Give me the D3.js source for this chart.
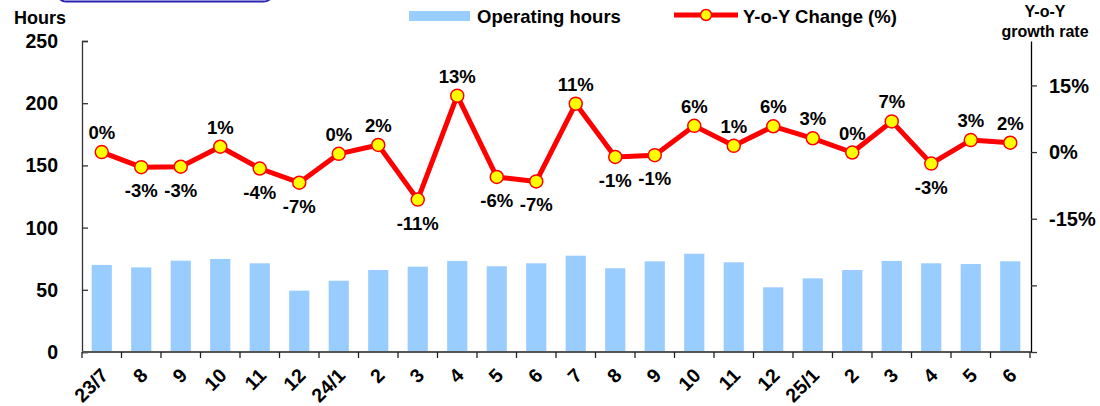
<!DOCTYPE html>
<html>
<head>
<meta charset="utf-8">
<script src="https://cdn.jsdelivr.net/npm/d3@7"></script>
<style>
  html, body { margin: 0; padding: 0; background: #fff; }
  svg { display: block; font-family: "Liberation Sans", Arial, sans-serif; font-weight: bold; }
</style>
</head>
<body>
<svg id="chart" width="1100" height="406"></svg>
<script>
// Monthly categories (Jul 2023 – Jun 2025)
const months = ["23/7","8","9","10","11","12","24/1","2","3","4","5","6","7","8","9","10","11","12","25/1","2","3","4","5","6"];
// Operating hours per month
const hours = [70, 68, 73.4, 74.8, 71.3, 49.3, 57.3, 65.9, 68.6, 73.2, 68.9, 71.3,
               77.4, 67.3, 72.9, 79, 72.1, 52, 59.2, 65.9, 73.2, 71.3, 70.7, 72.9];
// Year-on-year change (%)
const yoy = [0.0, -3.4, -3.3, 1.2, -3.7, -6.9, -0.4, 1.6, -10.7, 12.7, -5.6, -6.6,
             10.9, -1.1, -0.7, 5.9, 1.4, 5.8, 3.1, -0.1, 6.9, -2.6, 2.7, 2.1];
// Label placement for each YoY value
const labelPos = ["up","down","down","up","down","down","up","up","down","up","down","down",
                  "up","down","down","up","up","up","up","up","up","down","up","up"];
const leftTicks = [0, 50, 100, 150, 200, 250];
const rightTicks = [-45, -30, -15, 0, 15];
const rightLabels = [-15, 0, 15];

const svg = d3.select("#chart");
const plotLeft = 82, plotRight = 1030, plotTop = 41, plotBottom = 352;

const x = d3.scaleBand().domain(d3.range(months.length)).range([plotLeft, plotRight])
  .paddingInner(0.49).paddingOuter(0.245);
const yL = d3.scaleLinear().domain([0, 250]).range([plotBottom, plotTop]);
const yR = d3.scaleLinear().domain([-45, 25]).range([plotBottom, plotTop]);

// Frame box peeking in at the top-left
svg.append("rect").attr("x", 57).attr("y", -24).attr("width", 216).attr("height", 25.5)
  .attr("rx", 9).attr("fill", "#fff").attr("stroke", "#2a22b0").attr("stroke-width", 2);

// Bars
svg.append("g").selectAll("rect").data(hours).join("rect")
  .attr("x", (d, i) => x(i)).attr("width", x.bandwidth())
  .attr("y", d => yL(d)).attr("height", d => yL(0) - yL(d))
  .attr("fill", "#99ccff");

// Left axis
const gL = svg.append("g").attr("transform", `translate(${plotLeft},0)`)
  .call(d3.axisRight(yL).tickValues(leftTicks).tickSize(6).tickFormat(""));
gL.select(".domain").attr("stroke", "#333").attr("stroke-width", 1.3);
gL.selectAll(".tick line").attr("stroke", "#333").attr("stroke-width", 1.3);
svg.append("g").selectAll("text").data(leftTicks).join("text")
  .attr("x", 58).attr("y", d => yL(d)).attr("dy", "0.36em")
  .attr("text-anchor", "end").attr("font-size", 19.5).attr("fill", "#000").text(d => d);

// Right axis
const gR = svg.append("g").attr("transform", `translate(${plotRight + 1},0)`)
  .call(d3.axisRight(yR).tickValues(rightTicks).tickSize(6).tickSizeOuter(0).tickFormat(""));
gR.select(".domain").attr("stroke", "#000").attr("stroke-width", 1.3);
gR.selectAll(".tick line").attr("stroke", "#333").attr("stroke-width", 1.3);
svg.append("g").selectAll("text").data(rightLabels).join("text")
  .attr("x", 1049).attr("y", d => yR(d)).attr("dy", "0.36em")
  .attr("text-anchor", "start").attr("font-size", 20).attr("fill", "#000").text(d => d + "%");

// Bottom axis with ticks between categories
const step = x.step();
const boundaries = d3.range(months.length + 1).map(i => plotLeft + i * step);
svg.append("line").attr("x1", plotLeft).attr("x2", plotRight + 1).attr("y1", plotBottom).attr("y2", plotBottom)
  .attr("stroke", "#555").attr("stroke-width", 2);
svg.append("g").selectAll("line").data(boundaries).join("line")
  .attr("x1", d => d).attr("x2", d => d).attr("y1", plotBottom).attr("y2", plotBottom + 6)
  .attr("stroke", "#222").attr("stroke-width", 1.3);
svg.append("g").selectAll("text").data(months).join("text")
  .attr("transform", (d, i) => `translate(${x(i) + x.bandwidth() / 2 - 2},${plotBottom + 15}) rotate(-45)`)
  .attr("dy", "0.7em").attr("text-anchor", "end").attr("font-size", 19.5).attr("fill", "#000")
  .text(d => d);

// Axis titles
svg.append("text").attr("x", 40).attr("y", 24).attr("text-anchor", "middle")
  .attr("font-size", 18).text("Hours");
svg.append("text").attr("x", 1045).attr("y", 17).attr("text-anchor", "middle")
  .attr("font-size", 16).text("Y-o-Y");
svg.append("text").attr("x", 1045).attr("y", 37).attr("text-anchor", "middle")
  .attr("font-size", 16).text("growth rate");

// YoY line
const cx = i => x(i) + x.bandwidth() / 2;
svg.append("path").datum(yoy)
  .attr("d", d3.line().x((d, i) => cx(i)).y(d => yR(d)))
  .attr("fill", "none").attr("stroke", "#ff0000").attr("stroke-width", 5)
  .attr("stroke-linejoin", "round");
svg.append("g").selectAll("circle").data(yoy).join("circle")
  .attr("cx", (d, i) => cx(i)).attr("cy", d => yR(d)).attr("r", 6.5)
  .attr("fill", "#ffff00").attr("stroke", "#ff0000").attr("stroke-width", 1.5);
svg.append("g").selectAll("text").data(yoy).join("text")
  .attr("x", (d, i) => cx(i))
  .attr("y", (d, i) => labelPos[i] === "up" ? yR(d) - 13 : yR(d) + 30)
  .attr("text-anchor", "middle").attr("font-size", 18.5).attr("fill", "#000")
  .text(d => Math.round(d) + "%");

// Legend
const lg = svg.append("g");
lg.append("rect").attr("x", 409).attr("y", 11).attr("width", 61).attr("height", 10).attr("fill", "#99ccff");
lg.append("text").attr("x", 477).attr("y", 16).attr("dy", "0.36em").attr("font-size", 18.5).text("Operating hours");
lg.append("line").attr("x1", 674).attr("x2", 738).attr("y1", 15).attr("y2", 15)
  .attr("stroke", "#ff0000").attr("stroke-width", 5);
lg.append("circle").attr("cx", 706).attr("cy", 15).attr("r", 5.5)
  .attr("fill", "#ffff00").attr("stroke", "#ff0000").attr("stroke-width", 1.5);
lg.append("text").attr("x", 743).attr("y", 16).attr("dy", "0.36em").attr("font-size", 18.5).text("Y-o-Y Change (%)");
</script>
</body>
</html>
